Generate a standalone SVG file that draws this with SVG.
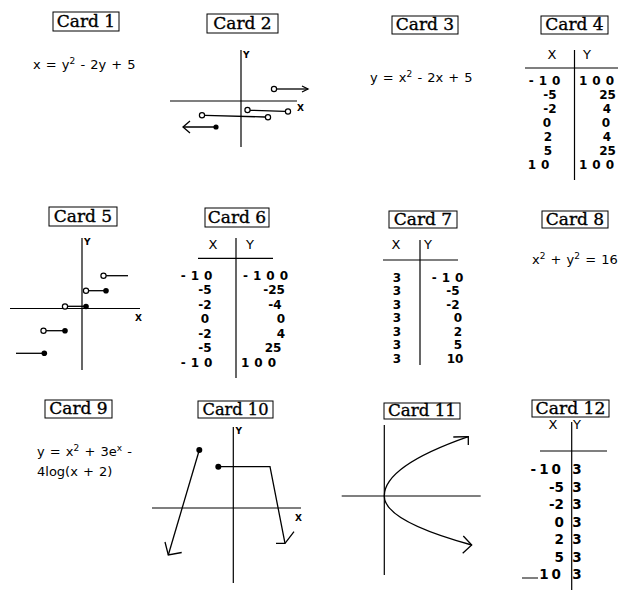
<svg xmlns="http://www.w3.org/2000/svg" width="627" height="590" viewBox="0 0 627 590">
<style>
.box{fill:none;stroke:#000;stroke-width:1}
.lbl{font-family:"DejaVu Serif","Liberation Serif",serif;font-size:17px;text-anchor:middle;fill:#000;stroke:#000;stroke-width:0.35}
.eq{font-family:"DejaVu Sans","Liberation Sans",sans-serif;font-size:13px;fill:#000}
.sup{font-size:9px}
.tb{font-family:"DejaVu Sans","Liberation Sans",sans-serif;font-weight:bold;font-size:12px;text-anchor:middle;fill:#000}
.tb13{font-size:13.5px}
.hd{font-family:"DejaVu Sans","Liberation Sans",sans-serif;font-size:13px;text-anchor:middle;fill:#000}
.ax{stroke:#000;stroke-width:1.2;fill:none}
.ln{stroke:#000;stroke-width:1.3;fill:none}
.op{fill:#fff;stroke:#000;stroke-width:1.2}
.dt{fill:#000}
.al{font-family:"DejaVu Sans","Liberation Sans",sans-serif;font-size:9px;font-weight:bold;fill:#000}
.sp{letter-spacing:5px}
</style>
<rect width="627" height="590" fill="#fff"/>

<g id="card1">
<rect class="box" x="53" y="12" width="66" height="19"/>
<text class="lbl" x="86" y="27">Card 1</text>
<text class="eq" x="33" y="69" word-spacing="1">x = y<tspan class="sup" dy="-5">2</tspan><tspan dy="5"> - 2y + 5</tspan></text>
</g>

<g id="card2">
<rect class="box" x="207" y="14" width="71" height="19"/>
<text class="lbl" x="242.5" y="29">Card 2</text>
<line class="ax" x1="170" y1="101" x2="297" y2="101"/>
<line class="ax" x1="241" y1="50" x2="241" y2="147"/>
<text class="al" x="243" y="58">Y</text>
<text class="al" x="297" y="111">X</text>
<line class="ln" x1="277" y1="89" x2="308" y2="89"/>
<polyline class="ln" points="302,86 308,89 302,92"/>
<line class="ln" x1="250" y1="110.3" x2="285" y2="111.3"/>
<line class="ln" x1="205" y1="115.3" x2="265" y2="117"/>
<line class="ln" x1="216" y1="127" x2="183" y2="127"/>
<polyline class="ln" points="190,121 183,127 190,133"/>
<circle class="op" cx="274" cy="89" r="2.6"/>
<circle class="op" cx="247.5" cy="110" r="2.6"/>
<circle class="op" cx="288" cy="111.5" r="2.6"/>
<circle class="op" cx="202" cy="115.2" r="2.6"/>
<circle class="op" cx="268" cy="117.2" r="2.6"/>
<circle class="dt" cx="216" cy="127" r="2.6"/>
</g>

<g id="card3">
<rect class="box" x="392" y="16" width="66" height="18"/>
<text class="lbl" x="425" y="30">Card 3</text>
<text class="eq" x="370" y="82" word-spacing="1">y = x<tspan class="sup" dy="-5">2</tspan><tspan dy="5"> - 2x + 5</tspan></text>
</g>

<g id="card4">
<rect class="box" x="541" y="16" width="67" height="18"/>
<text class="lbl" x="574.5" y="30">Card 4</text>
<text class="hd" x="552" y="59">X</text>
<text class="hd" x="587" y="59">Y</text>
<line class="ax" x1="525" y1="68" x2="618" y2="68"/>
<line class="ax" x1="574.5" y1="50" x2="574.5" y2="180"/>
<text class="tb sp" x="547" y="84.5">-10</text>
<text class="tb" x="550" y="98.5">-5</text>
<text class="tb" x="550" y="112.5">-2</text>
<text class="tb" x="547" y="126.5">0</text>
<text class="tb" x="548" y="140.5">2</text>
<text class="tb" x="548" y="154.5">5</text>
<text class="tb sp" x="541" y="168.5">10</text>
<text class="tb sp" x="599" y="84.5">100</text>
<text class="tb" x="607.5" y="98.5">25</text>
<text class="tb" x="607" y="112.5">4</text>
<text class="tb" x="606" y="126.5">0</text>
<text class="tb" x="607" y="140.5">4</text>
<text class="tb" x="607.5" y="154.5">25</text>
<text class="tb sp" x="599" y="168.5">100</text>
</g>

<g id="card5">
<rect class="box" x="49" y="207" width="68" height="19"/>
<text class="lbl" x="83" y="222">Card 5</text>
<line class="ax" x1="10" y1="308.5" x2="140" y2="308.5"/>
<line class="ax" x1="82" y1="238" x2="82" y2="370"/>
<text class="al" x="84" y="245">Y</text>
<text class="al" x="135" y="321">X</text>
<line class="ln" x1="106" y1="275.7" x2="128" y2="275.7"/>
<line class="ln" x1="89" y1="290.7" x2="106" y2="290.7"/>
<line class="ln" x1="68" y1="306.3" x2="86" y2="306.3"/>
<line class="ln" x1="46" y1="330.7" x2="65" y2="330.7"/>
<line class="ln" x1="16" y1="353.3" x2="44" y2="353.3"/>
<circle class="op" cx="103.5" cy="275.7" r="2.6"/>
<circle class="op" cx="86" cy="290.7" r="2.6"/>
<circle class="dt" cx="106" cy="290.7" r="2.8"/>
<circle class="op" cx="65" cy="306.5" r="2.6"/>
<circle class="dt" cx="86" cy="306.5" r="2.8"/>
<circle class="op" cx="43.5" cy="330.7" r="2.6"/>
<circle class="dt" cx="65" cy="330.7" r="2.8"/>
<circle class="dt" cx="44.3" cy="353.3" r="2.8"/>
</g>

<g id="card6">
<rect class="box" x="205" y="208" width="64" height="19"/>
<text class="lbl" x="237" y="223">Card 6</text>
<text class="hd" x="213" y="249">X</text>
<text class="hd" x="250" y="249">Y</text>
<line class="ax" x1="198" y1="258.3" x2="273" y2="258.3"/>
<line class="ax" x1="236" y1="238" x2="236" y2="378"/>
<text class="tb sp" x="199" y="279.5">-10</text>
<text class="tb" x="205" y="294">-5</text>
<text class="tb" x="205" y="308.5">-2</text>
<text class="tb" x="205" y="323">0</text>
<text class="tb" x="205" y="337.5">-2</text>
<text class="tb" x="205" y="352">-5</text>
<text class="tb sp" x="199" y="366.5">-10</text>
<text class="tb sp" x="268" y="279.5">-100</text>
<text class="tb" x="274" y="294">-25</text>
<text class="tb" x="275" y="308.5">-4</text>
<text class="tb" x="281" y="323">0</text>
<text class="tb" x="281" y="337.5">4</text>
<text class="tb" x="273" y="352">25</text>
<text class="tb sp" x="261" y="366.5">100</text>
</g>

<g id="card7">
<rect class="box" x="389" y="211" width="68" height="17"/>
<text class="lbl" x="423" y="225">Card 7</text>
<text class="hd" x="396" y="249">X</text>
<text class="hd" x="428" y="249">Y</text>
<line class="ax" x1="383" y1="260" x2="458" y2="260"/>
<line class="ax" x1="420" y1="240" x2="420" y2="365"/>
<text class="tb" x="397" y="281.5">3</text>
<text class="tb" x="397" y="295">3</text>
<text class="tb" x="397" y="308.5">3</text>
<text class="tb" x="397" y="322">3</text>
<text class="tb" x="397" y="335.5">3</text>
<text class="tb" x="397" y="349">3</text>
<text class="tb" x="397" y="362.5">3</text>
<text class="tb sp" x="450" y="281.5">-10</text>
<text class="tb" x="453" y="295">-5</text>
<text class="tb" x="453" y="308.5">-2</text>
<text class="tb" x="458" y="322">0</text>
<text class="tb" x="458" y="335.5">2</text>
<text class="tb" x="458" y="349">5</text>
<text class="tb" x="455" y="362.5">10</text>
</g>

<g id="card8">
<rect class="box" x="542" y="211" width="66" height="17"/>
<text class="lbl" x="575" y="225">Card 8</text>
<text class="eq" x="532" y="264" word-spacing="1">x<tspan class="sup" dy="-5">2</tspan><tspan dy="5"> + y</tspan><tspan class="sup" dy="-5">2</tspan><tspan dy="5"> = 16</tspan></text>
</g>

<g id="card9">
<rect class="box" x="45" y="400" width="67" height="18"/>
<text class="lbl" x="78.5" y="414">Card 9</text>
<text class="eq" x="37" y="456" word-spacing="1">y = x<tspan class="sup" dy="-5">2</tspan><tspan dy="5"> + 3e</tspan><tspan class="sup" dy="-5">x</tspan><tspan dy="5"> -</tspan></text>
<text class="eq" x="37" y="476" word-spacing="1">4log(x + 2)</text>
</g>

<g id="card10">
<rect class="box" x="198" y="401" width="75" height="17"/>
<text class="lbl" x="235.5" y="415" textLength="66" lengthAdjust="spacingAndGlyphs">Card 10</text>
<line class="ax" x1="152" y1="508" x2="301" y2="508"/>
<line class="ax" x1="233.3" y1="427" x2="233.3" y2="583"/>
<text class="al" x="235.5" y="434">Y</text>
<text class="al" x="295" y="521">X</text>
<line class="ln" x1="199.3" y1="450" x2="168.3" y2="555"/>
<polyline class="ln" points="165,542 168.3,555 181.7,552.5"/>
<polyline class="ln" points="218.3,466.7 270,466.7 285,543.3"/>
<polyline class="ln" points="276,543.3 285,543.3 294,531.7"/>
<circle class="dt" cx="199.3" cy="450" r="3"/>
<circle class="dt" cx="218.3" cy="466.7" r="3"/>
</g>

<g id="card11">
<rect class="box" x="384" y="403" width="76" height="16"/>
<text class="lbl" x="422" y="416" textLength="68" lengthAdjust="spacingAndGlyphs">Card 11</text>
<line class="ax" x1="341.7" y1="496" x2="480.7" y2="496"/>
<line class="ax" x1="384.3" y1="425" x2="384.3" y2="575"/>
<path class="ln" d="M468.3,436.7 Q384.3,466 384.3,496 Q384.3,521 471.7,545"/>
<polyline class="ln" points="453.3,437 468.3,436.7 468.3,445"/>
<polyline class="ln" points="463.3,536 471.7,545 462.7,553.3"/>
</g>

<g id="card12">
<rect class="box" x="532" y="400" width="77" height="17"/>
<text class="lbl" x="570.5" y="414" textLength="70" lengthAdjust="spacingAndGlyphs">Card 12</text>
<text class="hd" x="553" y="429">X</text>
<text class="hd" x="577" y="429">Y</text>
<line class="ax" x1="540" y1="451" x2="607" y2="451"/>
<line class="ax" x1="571.7" y1="422" x2="571.7" y2="590"/>
<text class="tb tb13" x="564" y="474" style="text-anchor:end;letter-spacing:3px">-10</text>
<text class="tb tb13" x="564" y="491.5" style="text-anchor:end">-5</text>
<text class="tb tb13" x="564" y="509" style="text-anchor:end">-2</text>
<text class="tb tb13" x="564" y="526.5" style="text-anchor:end">0</text>
<text class="tb tb13" x="564" y="544" style="text-anchor:end">2</text>
<text class="tb tb13" x="564" y="561.5" style="text-anchor:end">5</text>
<text class="tb tb13" x="564" y="579" style="text-anchor:end;letter-spacing:3px">10</text>
<text class="tb tb13" x="577" y="474">3</text>
<text class="tb tb13" x="577" y="491.5">3</text>
<text class="tb tb13" x="577" y="509">3</text>
<text class="tb tb13" x="577" y="526.5">3</text>
<text class="tb tb13" x="577" y="544">3</text>
<text class="tb tb13" x="577" y="561.5">3</text>
<text class="tb tb13" x="577" y="579">3</text>
<line stroke="#000" stroke-width="1" x1="522" y1="578" x2="538" y2="578"/>
</g>
</svg>
